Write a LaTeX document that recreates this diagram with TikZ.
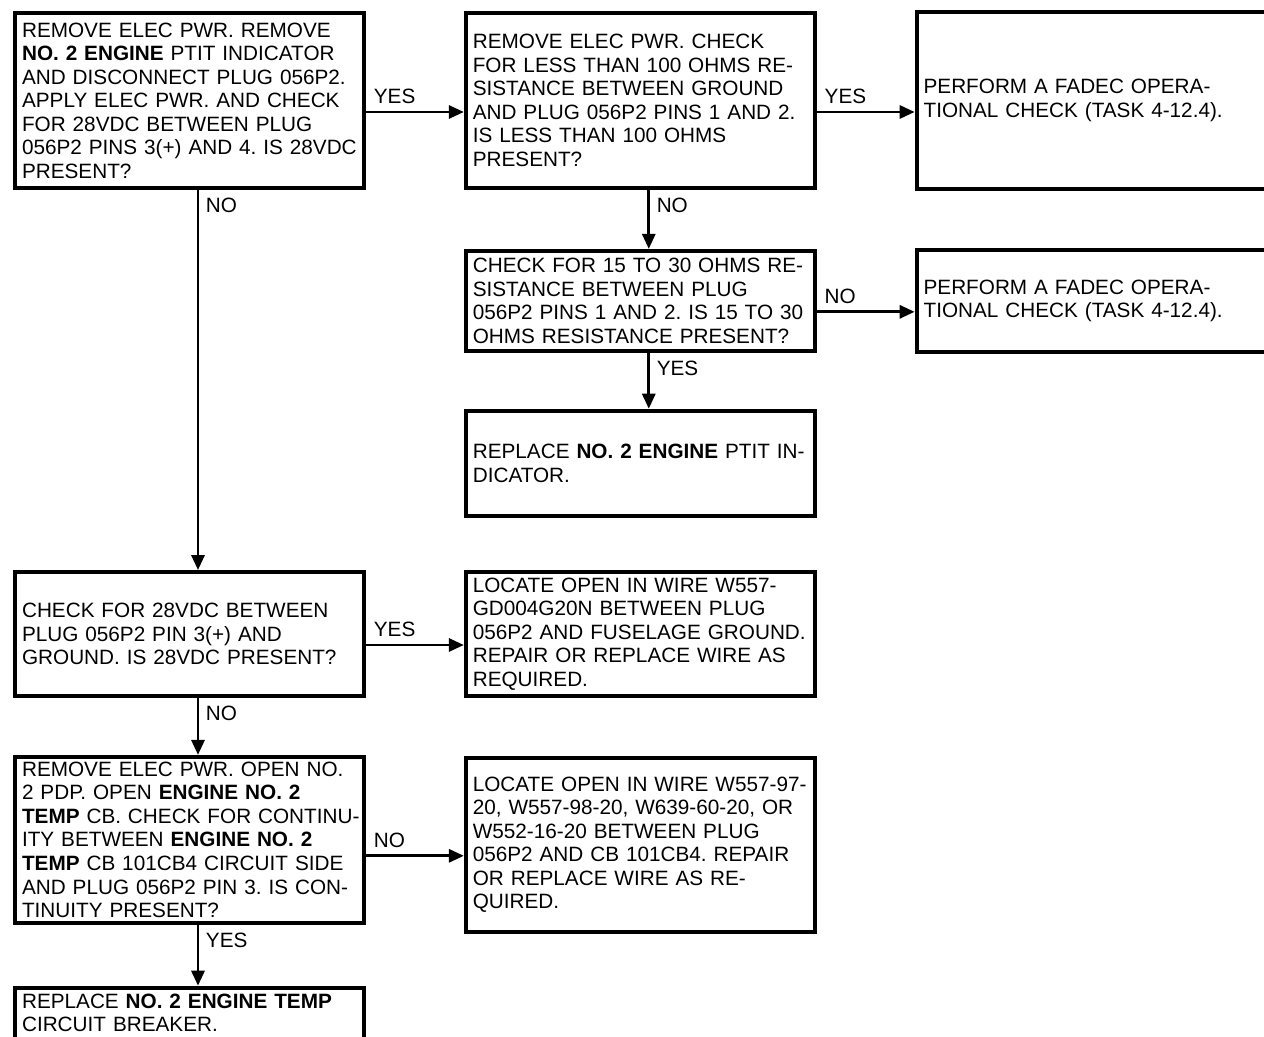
\documentclass[tikz,border=0pt]{standalone}
\usepackage{fontspec}
\setmainfont{Liberation Sans}
\usetikzlibrary{arrows.meta,positioning}

\begin{document}
\frenchspacing
\begin{tikzpicture}[x=0.02cm, y=-0.02cm,
  node distance=1.14cm and 1.96cm,
  box/.style={draw, line width=2.2pt, align=left, anchor=center,
              font=\fontsize{11.8}{13.4}\selectfont,
              text width=6.7cm, minimum width=6.98cm, minimum height=#1,
              inner xsep=0.14cm, inner ysep=0.1cm},
  box/.default=2cm,
  arr/.style={-{Triangle[length=0.3cm, width=0.26cm]}, line width=1.7pt},
  lbl/.style={font=\fontsize{11.8}{13.4}\selectfont, inner sep=0.13cm}]
\useasboundingbox (0,0) rectangle (1264,1037);
% first question and its branches
\node[box=3.5cm] (pwr) at (189.5,100.5) {REMOVE ELEC PWR. REMOVE\\
  \textbf{NO. 2 ENGINE} PTIT INDICATOR\\
  AND DISCONNECT PLUG 056P2.\\
  APPLY ELEC PWR. AND CHECK\\
  FOR 28VDC BETWEEN PLUG\\
  \mbox{056P2 PINS 3(+) AND 4. IS 28VDC}\\
  PRESENT?};
\node[box=3.5cm, right=of pwr] (ohm) {REMOVE ELEC PWR. CHECK\\
  FOR LESS THAN 100 OHMS RE-\\
  SISTANCE BETWEEN GROUND\\
  AND PLUG 056P2 PINS 1 AND 2.\\
  IS LESS THAN 100 OHMS\\
  PRESENT?};
\node[box=3.54cm, right=of ohm] (fadecA) {PERFORM A FADEC OPERA-\\
  TIONAL CHECK (TASK 4-12.4).};
\node[box=2cm, below=1.18cm of ohm] (res) {CHECK FOR 15 TO 30 OHMS RE-\\
  SISTANCE BETWEEN PLUG\\
  \mbox{056P2 PINS 1 AND 2. IS 15 TO 30}\\
  OHMS RESISTANCE PRESENT?};
\node[box=2.04cm, right=of res] (fadecB) {PERFORM A FADEC OPERA-\\
  TIONAL CHECK (TASK 4-12.4).};
\node[box=2.1cm, below=1.12cm of res] (ind) {REPLACE \textbf{NO. 2 ENGINE} PTIT IN-\\
  DICATOR.};
% lower part
\node[box=2.48cm] (gnd) at (189.5,634) {CHECK FOR 28VDC BETWEEN\\
  PLUG 056P2 PIN 3(+) AND\\
  GROUND. IS 28VDC PRESENT?};
\node[box=2.48cm, right=of gnd] (wgnd) {LOCATE OPEN IN WIRE W557-\\
  GD004G20N BETWEEN PLUG\\
  \mbox{056P2 AND FUSELAGE GROUND.}\\
  REPAIR OR REPLACE WIRE AS\\
  REQUIRED.};
\node[box=3.28cm, below=of gnd] (cont) {REMOVE ELEC PWR. OPEN NO.\\
  2 PDP. OPEN \textbf{ENGINE NO. 2}\\
  \mbox{\textbf{TEMP} CB. CHECK FOR CONTINU-}\\
  ITY BETWEEN \textbf{ENGINE NO. 2}\\
  \mbox{\textbf{TEMP} CB 101CB4 CIRCUIT SIDE}\\
  \mbox{AND PLUG 056P2 PIN 3. IS CON-}\\
  TINUITY PRESENT?};
\node[box=3.48cm, right=of cont, yshift=-0.1cm] (wcb) {\mbox{LOCATE OPEN IN WIRE W557-97-}\\
  \mbox{20, W557-98-20, W639-60-20, OR}\\
  W552-16-20 BETWEEN PLUG\\
  056P2 AND CB 101CB4. REPAIR\\
  OR REPLACE WIRE AS RE-\\
  QUIRED.};
\node[box=0cm, below=1.22cm of cont, inner ysep=0.12cm, text depth=1.2cm] (cb) {REPLACE \textbf{NO. 2 ENGINE TEMP}\\
  CIRCUIT BREAKER.};
% connectors
\draw[arr] ([yshift=-0.23cm]pwr.east) -- ([yshift=-0.23cm]pwr.east -| ohm.west)
  node[lbl, pos=0, anchor=south west]{YES};
\draw[arr] ([yshift=-0.23cm]ohm.east) -- ([yshift=-0.23cm]ohm.east -| fadecA.west)
  node[lbl, pos=0, anchor=south west]{YES};
\draw[arr] ([xshift=0.17cm]pwr.south) -- ([xshift=0.17cm]pwr.south |- gnd.north)
  node[lbl, pos=0, anchor=north west]{NO};
\draw[arr] ([xshift=0.17cm]ohm.south) -- ([xshift=0.17cm]ohm.south |- res.north)
  node[lbl, pos=0, anchor=north west]{NO};
\draw[arr] ([yshift=-0.22cm]res.east) -- ([yshift=-0.22cm]res.east -| fadecB.west)
  node[lbl, pos=0, anchor=south west]{NO};
\draw[arr] ([xshift=0.17cm]res.south) -- ([xshift=0.17cm]res.south |- ind.north)
  node[lbl, pos=0, anchor=north west]{YES};
\draw[arr] ([yshift=-0.22cm]gnd.east) -- ([yshift=-0.22cm]gnd.east -| wgnd.west)
  node[lbl, pos=0, anchor=south west]{YES};
\draw[arr] ([xshift=0.17cm]gnd.south) -- ([xshift=0.17cm]gnd.south |- cont.north)
  node[lbl, pos=0, anchor=north west]{NO};
\draw[arr] ([yshift=-0.32cm]cont.east) -- ([yshift=-0.32cm]cont.east -| wcb.west)
  node[lbl, pos=0, anchor=south west]{NO};
\draw[arr] ([xshift=0.17cm]cont.south) -- ([xshift=0.17cm]cont.south |- cb.north)
  node[lbl, pos=0, anchor=north west]{YES};
\end{tikzpicture}
\end{document}
